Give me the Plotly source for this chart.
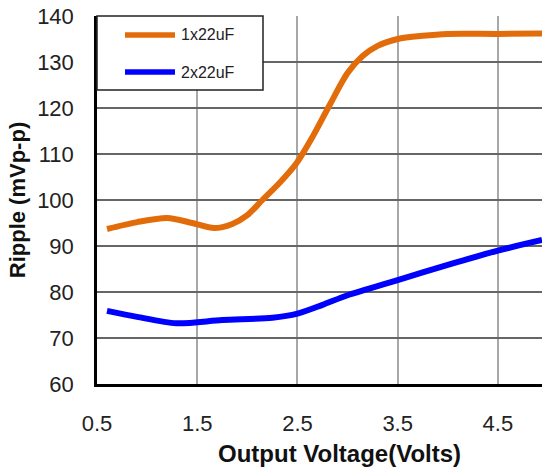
import plotly.graph_objects as go

# Data
x_1x = [0.6, 0.9, 1.2, 1.45, 1.67, 1.85, 2.0, 2.15, 2.32, 2.49, 2.65, 2.82, 3.0, 3.15, 3.3, 3.5, 3.75, 4.0, 4.5, 4.94]
y_1x = [93.7, 95.2, 96.1, 95.0, 93.9, 94.8, 96.7, 100.0, 103.7, 108.0, 113.7, 120.6, 127.6, 131.3, 133.5, 135.0, 135.7, 136.1, 136.1, 136.2]

x_2x = [0.6, 0.9, 1.29, 1.75, 2.25, 2.5, 2.75, 3.0, 3.5, 4.0, 4.5, 4.94]
y_2x = [75.9, 74.6, 73.2, 73.9, 74.4, 75.3, 77.2, 79.3, 82.6, 85.9, 89.0, 91.3]

series_names = ["1x22uF", "2x22uF"]
series_colors = ["#E36C0A", "#0000FF"]

x_ticks = [0.5, 1.5, 2.5, 3.5, 4.5]
y_ticks = [60, 70, 80, 90, 100, 110, 120, 130, 140]

FONT = "Liberation Sans, Arial, sans-serif"

fig = go.Figure()
for xs, ys, nm, col in [(x_1x, y_1x, series_names[0], series_colors[0]),
                        (x_2x, y_2x, series_names[1], series_colors[1])]:
    fig.add_trace(go.Scatter(x=xs, y=ys, mode="lines", name=nm,
                             line=dict(color=col, width=6, shape="spline", smoothing=0.8),
                             showlegend=False))

# Legend box drawn in paper coordinates (plot area 445 x 368 px)
W, H = 445.0, 368.0
shapes = [dict(type="rect", xref="paper", yref="paper",
               x0=0, x1=166 / W, y0=1 - 74 / H, y1=1,
               line=dict(color="#222", width=1.5), fillcolor="white", layer="above")]
annotations = []
for i, (nm, col) in enumerate(zip(series_names, series_colors)):
    yy = 1 - (19 + 37 * i) / H
    shapes.append(dict(type="line", xref="paper", yref="paper",
                       x0=28 / W, x1=78 / W, y0=yy, y1=yy,
                       line=dict(color=col, width=5.5), layer="above"))
    annotations.append(dict(text=nm, xref="paper", yref="paper", x=82 / W, y=yy,
                            xanchor="left", yanchor="middle", showarrow=False,
                            font=dict(size=16, family=FONT, color="#222")))

# x-axis title (centred as in the original, whose plot area runs past the crop)
annotations.append(dict(text="<b>Output Voltage(Volts)</b>", xref="paper", yref="paper",
                        x=242 / W, y=0, xanchor="center", yanchor="middle", yshift=-69,
                        showarrow=False, font=dict(size=24, family=FONT, color="#111")))

fig.update_layout(
    width=542, height=470,
    margin=dict(l=97, r=0, t=16, b=86),
    paper_bgcolor="white", plot_bgcolor="white",
    font=dict(family=FONT, color="#222"),
    showlegend=False,
    shapes=shapes, annotations=annotations,
)
fig.update_xaxes(
    range=[0.5, 4.94], tickvals=x_ticks, ticktext=[str(v) for v in x_ticks],
    showgrid=True, gridcolor="#a8a8a8", gridwidth=2,
    showline=True, linecolor="black", linewidth=2.5,
    ticks="outside", ticklen=18, tickcolor="rgba(0,0,0,0)",
    tickfont=dict(size=22, family=FONT, color="#222"),
    zeroline=False, automargin=False,
)
fig.update_yaxes(
    range=[60, 140], tickvals=y_ticks,
    showgrid=True, gridcolor="#666666", gridwidth=1.5,
    showline=True, linecolor="black", linewidth=2.5,
    ticks="outside", ticklen=16, tickcolor="rgba(0,0,0,0)",
    tickfont=dict(size=22, family=FONT, color="#222"),
    title=dict(text="<b>Ripple (mVp-p)</b>", font=dict(size=22, family=FONT, color="#111"),
               standoff=6),
    zeroline=False, automargin=False,
)

# remove the default 8px page margin so the figure fills the window exactly
fig.write_html("out.html", config={"displayModeBar": False},
               post_script="document.body.style.margin='0px';")
